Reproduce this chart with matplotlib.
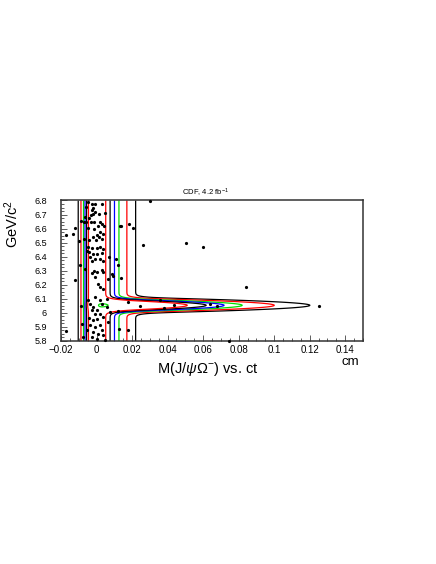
import math
import numpy as np
import matplotlib
matplotlib.use("Agg")
import matplotlib.pyplot as plt
from matplotlib.ticker import MultipleLocator, FuncFormatter

# ---------------- data ----------------
# candidate events: proper decay length ct [cm] and mass [GeV/c^2]
ct_cm = [
    0.0301, 0.0132, 0.0138, 0.0181, 0.0204, 0.0264, 0.0502, 0.0598, 0.0108, 0.0121,
    0.0136, 0.0840, 0.1254, 0.0677, 0.0639, 0.0438, 0.0358, 0.0380, 0.0128, 0.0177,
    0.0748, 0.0176, 0.0245, 0.0119,
    -0.0050, -0.0027, -0.0008, 0.0029, -0.0018, -0.0023, -0.0010, 0.0016, -0.0018, 0.0046,
    -0.0033, -0.0040, -0.0085, -0.0070, -0.0059, -0.0031, -0.0012, 0.0020, 0.0031, 0.0010,
    0.0042, -0.0121, -0.0046, -0.0014, -0.0172, -0.0130, 0.0020, 0.0001, 0.0038, 0.0016,
    -0.0018, -0.0040, -0.0003, 0.0029, -0.0099, -0.0070,
    -0.0046, -0.0027, 0.0001, 0.0020, 0.0038, -0.0040, -0.0018, 0.0005, 0.0029, -0.0037,
    -0.0008, 0.0020, -0.0023, 0.0038, -0.0055, 0.0070, -0.0121, -0.0014, 0.0001, -0.0023,
    0.0029, 0.0038, -0.0008, 0.0010, 0.0020, 0.0038, 0.0085, 0.0094, 0.0066, -0.0065,
    -0.0089, -0.0084, -0.0172, -0.0046, -0.0037, -0.0018, -0.0027, 0.0001, 0.0020, 0.0029,
    -0.0008, 0.0020, -0.0040, -0.0018, 0.0005, 0.0038, -0.0037, -0.0008, 0.0020, -0.0018,
    0.0010, 0.0029, 0.0038, -0.0027, 0.0001, 0.0057, 0.0076, 0.0066, 0.0048, -0.0074,
    -0.0055, -0.0008, 0.0057,
    -0.0093, -0.0061, -0.0065,
]
mass_gev = [
    6.798, 6.615, 6.622, 6.632, 6.601, 6.485, 6.501, 6.471, 6.383, 6.343,
    6.250, 6.181, 6.049, 6.046, 6.060, 6.053, 6.092, 6.037, 5.883, 5.880,
    5.802, 6.080, 6.051, 6.013,
    6.791, 6.777, 6.772, 6.777, 6.748, 6.729, 6.715, 6.701, 6.705, 6.713,
    6.696, 6.672, 6.653, 6.646, 6.649, 6.644, 6.646, 6.646, 6.630, 6.618,
    6.620, 6.606, 6.606, 6.596, 6.551, 6.563, 6.575, 6.558, 6.563, 6.542,
    6.539, 6.516, 6.516, 6.523, 6.511, 6.523,
    6.466, 6.459, 6.459, 6.471, 6.454, 6.430, 6.419, 6.419, 6.426, 6.395,
    6.383, 6.383, 6.371, 6.366, 6.442, 6.395, 6.236, 6.300, 6.293, 6.283,
    6.307, 6.288, 6.253, 6.205, 6.181, 6.169, 6.276, 6.260, 6.241, 6.312,
    6.046, 5.923, 5.868, 6.089, 6.065, 6.042, 6.018, 6.018, 6.089, 6.065,
    5.994, 5.994, 5.966, 5.947, 5.959, 5.970, 5.911, 5.899, 5.911, 5.864,
    5.852, 5.876, 5.840, 5.828, 5.816, 6.042, 6.006, 5.935, 5.804, 5.828,
    5.876, 6.113, 6.101,
    6.343, 6.757, 6.686,
]

# fitted likelihood model parameters (signal + background)
mass_peak = 6.054
mass_sigma = 0.022
ctau_signal = 0.030
ct_resolution = 0.0025
bkg_lambda_right = 0.0074
bkg_lambda_left = 0.0023
amp_signal = 54.6
amp_bkg_right = 18.5
amp_bkg_left = 49.0

contour_levels = [1.0, 1.95, 3.56, 5.0, 7.0, 10.0, 52.0]
contour_colors = ["black", "red", "#00dd00", "blue", "black", "red", "#00dd00"]

x_ticks = [-0.02, 0.0, 0.02, 0.04, 0.06, 0.08, 0.10, 0.12, 0.14]
y_ticks = [5.8, 5.9, 6.0, 6.1, 6.2, 6.3, 6.4, 6.5, 6.6, 6.7, 6.8]

# ---------------- figure ----------------
plt.rcParams["font.family"] = ["Liberation Sans", "DejaVu Sans"]
plt.rcParams["mathtext.fontset"] = "custom"
plt.rcParams["mathtext.rm"] = "Liberation Sans"
plt.rcParams["mathtext.it"] = "Liberation Sans:italic"
plt.rcParams["mathtext.bf"] = "Liberation Sans:bold"

W, H = 436, 564
fig = plt.figure(figsize=(W / 100, H / 100), dpi=100)
ax = fig.add_axes([61 / W, 1 - 341 / H, (363 - 61) / W, (341 - 200.5) / H])

erfc_v = np.vectorize(math.erfc)


def conv_exp(t, lam, res):
    return np.exp(res ** 2 / (2 * lam ** 2) - t / lam) * 0.5 * erfc_v((res / lam - t / res) / np.sqrt(2))


xs = np.linspace(-0.02, 0.15, 681)
ms = np.linspace(5.8, 6.8, 401)
X, M = np.meshgrid(xs, ms)
bkg = amp_bkg_right * conv_exp(X, bkg_lambda_right, ct_resolution) + \
    amp_bkg_left * conv_exp(-X, bkg_lambda_left, ct_resolution)
sig = amp_signal * np.exp(-0.5 * ((M - mass_peak) / mass_sigma) ** 2) * \
    conv_exp(X, ctau_signal, ct_resolution)
ax.contour(X, M, bkg + sig, levels=contour_levels, colors=contour_colors,
           linewidths=0.9, zorder=2)

ax.plot(ct_cm, mass_gev, "o", ms=2.3, color="black", mec="none", zorder=3, clip_on=False)

ax.set_xlim(-0.02, 0.15)
ax.set_ylim(5.8, 6.8)
ax.set_xticks(x_ticks)
ax.set_yticks(y_ticks)
ax.xaxis.set_minor_locator(MultipleLocator(0.005))
ax.yaxis.set_minor_locator(MultipleLocator(0.025))


def fmt(v, pos):
    s = "%g" % round(v, 4)
    return s.replace("-", "\u2212")


ax.xaxis.set_major_formatter(FuncFormatter(fmt))
ax.yaxis.set_major_formatter(FuncFormatter(fmt))
ax.tick_params(which="both", direction="in", top=False, right=False, colors="#444444",
               labelcolor="black")
ax.tick_params(axis="x", which="major", length=4.5, width=0.6, labelsize=7, pad=3)
ax.tick_params(axis="x", which="minor", length=2.2, width=0.6)
ax.tick_params(axis="y", which="major", length=4.5, width=0.6, labelsize=6.5, pad=10)
ax.tick_params(axis="y", which="minor", length=2.2, width=0.6)
for sp in ax.spines.values():
    sp.set_linewidth(1.1)
    sp.set_color("#333333")

fig.text(205 / W, 1 - 193 / H, "CDF, 4.2 fb$^{-1}$", fontsize=5.5, ha="center", va="center")
fig.text(12 / W, 1 - 200 / H, "GeV/c$^{2}$", fontsize=10.5, rotation=90, ha="center", va="top")
fig.text(208 / W, 1 - 369 / H, "M(J/$\\psi\\Omega^{-}$) vs. ct", fontsize=10.5,
         ha="center", va="center")
fig.text(350 / W, 1 - 362 / H, "cm", fontsize=9.5, ha="center", va="center")

fig.savefig("out.png", dpi=100)
